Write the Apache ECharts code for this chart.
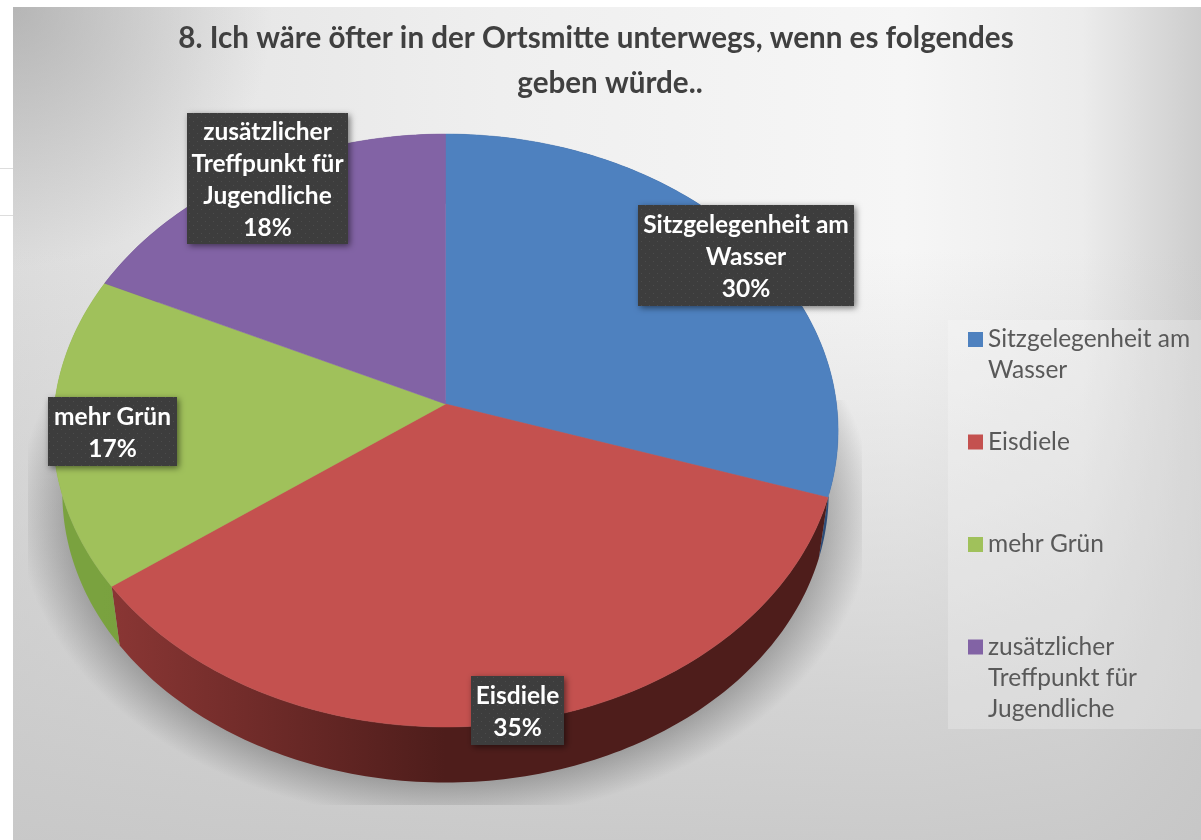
<!DOCTYPE html>
<html>
<head>
<meta charset="utf-8">
<title>Ortsmitte</title>
<style>
  html, body { margin: 0; padding: 0; background: #fff; }
  #chart { width: 1201px; height: 840px; }
</style>
<script src="https://cdn.jsdelivr.net/npm/echarts@6/dist/echarts.min.js"></script>
</head>
<body>
<div id="chart"></div>
<script>
var titleLines = ['8. Ich wäre öfter in der Ortsmitte unterwegs, wenn es folgendes', 'geben würde..'];
var categories = ['Sitzgelegenheit am\nWasser', 'Eisdiele', 'mehr Grün', 'zusätzlicher\nTreffpunkt für\nJugendliche'];
var values = [30, 35, 17, 18];

var FONT = 'Lato, "Open Sans", sans-serif';
var colors = ['#4e81bf', '#c4514f', '#a0c15b', '#8263a5'];
var wallColors = [
  ['#2c4c78', '#2c4c78'],
  ['#8c3735', '#4e1d1b'],
  ['#7aa23f', '#6f9638'],
  ['#59447a', '#59447a']
];
// label boxes: left, top, width, height
var labelBoxes = [
  [638, 205, 216, 101],
  [471, 676, 93, 69],
  [48, 397, 129, 69],
  [187, 113, 161, 131]
];

// the pie lies tilted: apex + perspective, bottom rim is the top rim pushed back
var APEX_X = 445.5, APEX_Y = 404, RX = 391, RY = 294.1, PERSP = 0.0894;
var DEPTH_SCALE = 0.976, DEPTH_Y = 73;

function rimPoint(deg) {
  var a = deg * Math.PI / 180;
  var u = -Math.cos(a), v = Math.sin(a), w = 1 - PERSP * u;
  return [APEX_X + RX * v / w, APEX_Y + RY * u / w];
}
function lowerPoint(p) {
  return [APEX_X + (p[0] - APEX_X) * DEPTH_SCALE, p[1] * DEPTH_SCALE + DEPTH_Y];
}

var total = values.reduce(function (s, v) { return s + v; }, 0);

// dotted texture of the label boxes
var texture = document.createElement('canvas');
texture.width = 8;
texture.height = 8;
(function () {
  var c = texture.getContext('2d');
  c.fillStyle = '#3d3d3d';
  c.fillRect(0, 0, 8, 8);
  c.fillStyle = '#4c4c4c';
  c.fillRect(1, 1, 1, 1);
  c.fillRect(5, 5, 1, 1);
})();

function bgRect(fill) {
  return { type: 'rect', z2: 0, shape: { x: 13, y: 7, width: 1188, height: 833 }, style: { fill: fill } };
}

function renderDecor() {
  var shadowCy = 510, shadowScale = 0.724;
  return {
    type: 'group',
    children: [
      { type: 'rect', z2: 0, shape: { x: 0, y: 168, width: 13, height: 1 }, style: { fill: '#dddddd' } },
      { type: 'rect', z2: 0, shape: { x: 0, y: 215, width: 13, height: 1 }, style: { fill: '#dddddd' } },
      // background: sideways light, greyer toward the bottom, dark top left corner
      bgRect(new echarts.graphic.LinearGradient(13, 0, 1201, 0, [
        { offset: 0, color: '#dcdcdc' },
        { offset: 0.16, color: '#e6e6e6' },
        { offset: 0.41, color: '#efefef' },
        { offset: 0.75, color: '#f6f6f6' },
        { offset: 0.9, color: '#ececec' },
        { offset: 1, color: '#cdcdcd' }
      ], true)),
      bgRect(new echarts.graphic.LinearGradient(0, 250, 0, 840, [
        { offset: 0, color: 'rgba(200,200,200,0)' },
        { offset: 0.76, color: 'rgba(200,200,200,0.75)' },
        { offset: 1, color: 'rgba(198,198,198,0.9)' }
      ], true)),
      bgRect(new echarts.graphic.RadialGradient(13, 7, 260, [
        { offset: 0, color: 'rgba(150,150,150,0.55)' },
        { offset: 1, color: 'rgba(150,150,150,0)' }
      ], true)),
      {
        type: 'group', x: APEX_X, y: shadowCy, scaleY: shadowScale, z2: 0,
        children: [{
          type: 'rect', z2: 0,
          shape: {
            x: 28 - APEX_X,
            y: (400 - shadowCy) / shadowScale,
            width: 834,
            height: (805 - 400) / shadowScale
          },
          style: {
            fill: new echarts.graphic.RadialGradient(0, 0, 428, [
              { offset: 0, color: 'rgba(105,105,105,0.55)' },
              { offset: 0.86, color: 'rgba(105,105,105,0.55)' },
              { offset: 1, color: 'rgba(105,105,105,0)' }
            ], true)
          }
        }]
      },
      {
        type: 'rect', z2: 0,
        shape: { x: 948, y: 320, width: 253, height: 409 },
        style: { fill: 'rgba(255,255,255,0.22)' }
      }
    ]
  };
}

function sliceRenderer(idx) {
  return function (params, api) {
    var before = 0;
    for (var i = 0; i < idx; i++) before += values[i];
    var start = before / total * 360;
    var end = (before + api.value(0)) / total * 360;

    var rim = [];
    for (var d = start; d < end; d += 1) rim.push(rimPoint(d));
    rim.push(rimPoint(end));

    var wall = rim.concat(rim.map(lowerPoint).reverse());
    var box = labelBoxes[idx];
    var text = categories[idx] + '\n' + Math.round(api.value(0) / total * 100) + '%';

    return {
      type: 'group',
      children: [
        {
          type: 'polygon', z2: 1,
          shape: { points: wall },
          style: {
            fill: new echarts.graphic.LinearGradient(100, 0, 445, 0, [
              { offset: 0, color: wallColors[idx][0] },
              { offset: 1, color: wallColors[idx][1] }
            ], true)
          }
        },
        {
          type: 'polygon', z2: 2,
          shape: { points: [[APEX_X, APEX_Y]].concat(rim) },
          style: { fill: colors[idx], stroke: colors[idx], lineWidth: 0.5 }
        },
        {
          type: 'rect', z2: 3,
          shape: { x: box[0], y: box[1], width: box[2], height: box[3] },
          style: {
            fill: { image: texture, repeat: 'repeat' },
            shadowBlur: 6, shadowOffsetX: 2, shadowOffsetY: 2, shadowColor: 'rgba(0,0,0,0.5)'
          }
        },
        {
          type: 'text', z2: 4,
          style: {
            text: text,
            x: box[0] + box[2] / 2,
            y: box[1] + box[3] / 2 + 2,
            align: 'center',
            verticalAlign: 'middle',
            fill: '#ffffff',
            font: 'bold 24.5px ' + FONT,
            lineHeight: 32
          }
        }
      ]
    };
  };
}

// rich text so the padding really moves the lines: first line stays level with the marker
var L = 31;
var legendData = categories.map(function (name) {
  var n = name.split('\n').length;
  return { name: name, textStyle: { padding: [2 * L, 0, (3 - n) * L, 0] } };
});

var series = [{
  name: 'decor',
  type: 'custom',
  coordinateSystem: 'none',
  z: 0,
  silent: true,
  renderItem: renderDecor,
  data: [[0]]
}];
categories.forEach(function (name, i) {
  series.push({
    name: name,
    type: 'custom',
    coordinateSystem: 'none',
    z: 2,
    silent: true,
    itemStyle: { color: colors[i] },
    renderItem: sliceRenderer(i),
    data: [[values[i]]]
  });
});

function titleLine(text, left, top) {
  return {
    text: text,
    left: left,
    top: top,
    padding: 0,
    textAlign: 'center',
    textStyle: {
      fontFamily: FONT,
      fontWeight: 'bold',
      fontSize: 29.6,
      lineHeight: 45,
      color: '#404040'
    }
  };
}

var chart = echarts.init(document.getElementById('chart'), null, { renderer: 'canvas' });
chart.setOption({
  animation: false,
  title: [
    titleLine(titleLines[0], 596, 16),
    titleLine(titleLines[1], 610, 61)
  ],
  legend: {
    orient: 'vertical',
    left: 968,
    top: 262,
    padding: 0,
    itemGap: -52.5,
    itemWidth: 15,
    itemHeight: 15,
    icon: 'rect',
    selectedMode: false,
    data: legendData,
    formatter: function (name) {
      return name.split('\n').map(function (s) { return '{t|' + s + '}'; }).join('\n');
    },
    textStyle: {
      fontFamily: FONT,
      fontSize: 24.5,
      lineHeight: L,
      color: '#595959',
      rich: {
        t: { fontFamily: FONT, fontSize: 24.5, lineHeight: L, color: '#595959' }
      }
    }
  },
  series: series
});
</script>
</body>
</html>
